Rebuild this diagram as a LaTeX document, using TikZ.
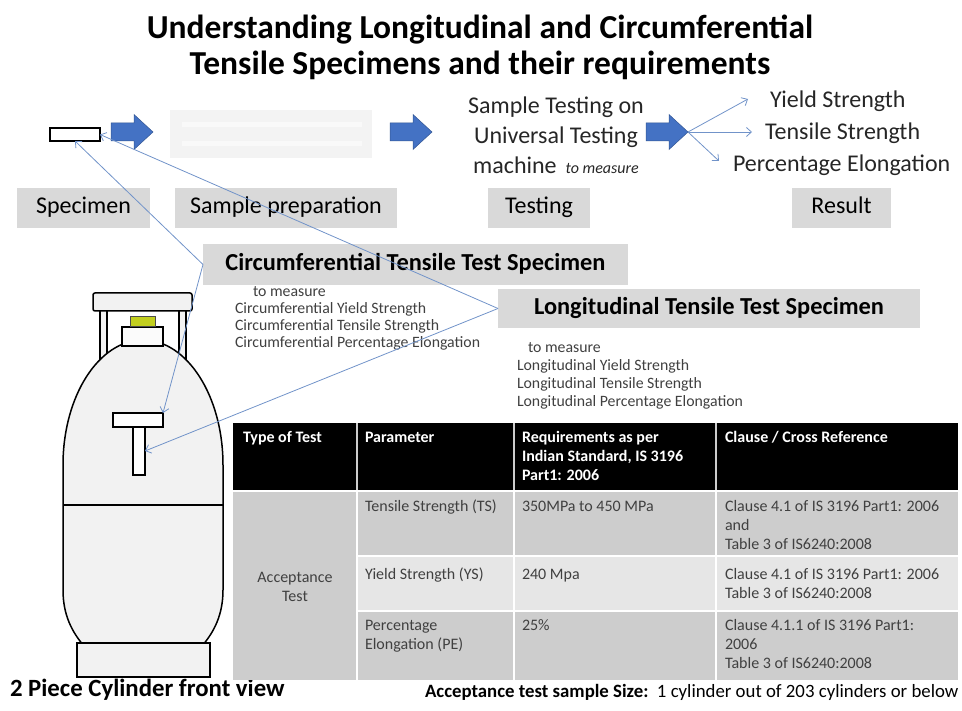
\documentclass[tikz,border=0pt]{standalone}
\usepackage{fontspec}
\setmainfont{Carlito}
\usetikzlibrary{arrows.meta}
\definecolor{arrowblue}{HTML}{4472C4}
\definecolor{linkblue}{HTML}{7193C9}
\definecolor{labelgrey}{HTML}{D9D9D9}
\definecolor{cellgrey}{HTML}{CDCDCD}
\definecolor{celllight}{HTML}{E6E6E6}
\definecolor{celltext}{HTML}{404040}
\definecolor{tankfill}{HTML}{F2F2F2}
\definecolor{valvegreen}{HTML}{C2CF1F}
\definecolor{prepfill}{HTML}{F3F3F3}
\newcommand\fsz[2]{\fontsize{#1}{#2}\selectfont}

\begin{document}
\begin{tikzpicture}[x=1pt,y=-1pt,
  every node/.style={inner sep=0pt, outer sep=0pt},
  stagebox/.style={fill=labelgrey, minimum height=40, text height=17, text depth=5, font=\fsz{24}{29}},
  headbox/.style={fill=labelgrey, text height=17, text depth=5, font=\bfseries\fsz{24.4}{29}},
  bigtext/.style={font=\fsz{24}{30}, text=black!85},
  sublist/.style={anchor=north west, align=left, text=black!75},
  link/.style={draw=linkblue, line width=0.8pt, -{Straight Barb[length=5pt,width=9pt]}},
  tank/.style={draw=black, line width=1.5pt, fill=tankfill},
  part/.style={draw=black, line width=1.5pt, fill=white},
  tcell/.style={anchor=north west, align=left, font=\fsz{16}{19}, text=celltext},
  thead/.style={anchor=north west, align=left, font=\bfseries\fsz{16}{19}, text=white},
  blockarrow/.pic={\filldraw[fill=arrowblue, draw=arrowblue!75!black, line width=0.5pt]
      (-21,-9) -- (2,-9) -- (2,-17.5) -- (21,0) -- (2,17.5) -- (2,9) -- (-21,9) -- cycle;}
]
\useasboundingbox (0,0) rectangle (962,711);

% title
\node[font=\bfseries\fsz{33.5}{36}, align=center] (title) at (480,47)
  {Understanding Longitudinal and Circumferential\\Tensile Specimens and their requirements};

% process row
\node[draw=black, line width=2pt, fill=white, minimum width=50, minimum height=13] (spec) at (75,134.5) {};
\pic at (132,132) {blockarrow};
\node[fill=prepfill, minimum width=202, minimum height=48] (prep) at (271,134) {};
\fill[white!50!prepfill] (182,122) rectangle (362,127);
\fill[white!50!prepfill] (182,141) rectangle (362,146);
\pic at (411,132) {blockarrow};
\node[bigtext, align=center] (testtxt) at (556,135)
  {Sample Testing on\\Universal Testing\\machine {\itshape\fsz{16}{30} to measure}};
\pic at (667,132) {blockarrow};
\coordinate (tip) at (688,132);

\node[bigtext, anchor=west] (ys) at (770,101) {Yield Strength};
\node[bigtext, anchor=west] (ts) at (765,133) {Tensile Strength};
\node[bigtext, anchor=west] (pe) at (733,165) {Percentage Elongation};
\coordinate (ysend) at (748,99);
\coordinate (tsend) at (752,132);
\coordinate (peend) at (719,161);
\draw[link] (tip) -- (ysend);
\draw[link] (tip) -- (tsend);
\draw[link] (tip) -- (peend);

% stage labels
\node[stagebox, minimum width=133] (l1) at (83.5,208) {Specimen};
\node[stagebox, minimum width=222] (l2) at (286,208) {Sample preparation};
\node[stagebox, minimum width=102] (l3) at (539,208) {Testing};
\node[stagebox, minimum width=99] (l4) at (841.5,208) {Result};

% specimen headings
\node[headbox, minimum width=425, minimum height=41] (circ) at (415.5,264.5) {Circumferential Tensile Test Specimen};
\node[headbox, minimum width=422, minimum height=39] (long) at (709,308.5) {Longitudinal Tensile Test Specimen};

\node[sublist, font=\fsz{15.8}{17}] (circlist) at (235,287)
  {\hspace{18pt}to measure\\Circumferential Yield Strength\\Circumferential Tensile Strength\\Circumferential Percentage Elongation};
\node[sublist, font=\fsz{15.8}{18}] (longlist) at (517,343)
  {\hspace{11pt}to measure\\Longitudinal Yield Strength\\Longitudinal Tensile Strength\\Longitudinal Percentage Elongation};

% cylinder
\draw[tank] (100,306) rectangle (107,370);
\draw[tank] (179,306) rectangle (186,370);
\draw[tank] (84,646) .. controls (72,632) and (63,615) .. (63,590) -- (63,465)
  .. controls (63,396) and (99,340) .. (143,340)
  .. controls (187,340) and (223,396) .. (223,465) -- (223,590)
  .. controls (223,615) and (214,632) .. (202,646) -- cycle;
\draw[black, line width=1.5pt] (63,505) -- (223,505);
\draw[tank, rounded corners=2] (93,293) rectangle (192,311);
\draw[draw=black, line width=1.5pt, fill=white!70!tankfill] (122,327) rectangle (163,346);
\draw[draw=black!70, line width=1pt, fill=valvegreen] (130,317) rectangle (155,327);
\draw[tank] (77,643) rectangle (210,677);
\node[part, minimum width=50, minimum height=14] (tbar) at (138,420) {};
\node[part, minimum width=12, minimum height=48, anchor=north] (tstem) at (139,427) {};
\node[font=\bfseries\fsz{24.8}{29}, anchor=west] (cyltitle) at (10,690) {2 Piece Cylinder front view};

% requirement table
\fill[black] (233,423) rectangle (958,490);
\fill[cellgrey] (233,492) rectangle (356,680);
\fill[cellgrey] (358,492) rectangle (513,555);
\fill[cellgrey] (515,492) rectangle (715,555);
\fill[cellgrey] (717,492) rectangle (958,555);
\fill[celllight] (358,557) rectangle (513,610);
\fill[celllight] (515,557) rectangle (715,610);
\fill[celllight] (717,557) rectangle (958,610);
\fill[cellgrey] (358,612) rectangle (513,680);
\fill[cellgrey] (515,612) rectangle (715,680);
\fill[cellgrey] (717,612) rectangle (958,680);
\draw[white!80!black, line width=1.5pt] (357,423) -- (357,490) (514,423) -- (514,490) (716,423) -- (716,490);

\node[thead] (h1) at (243,429) {\strut Type of Test};
\node[thead] (h2) at (365,429) {\strut Parameter};
\node[thead] (h3) at (522,429) {\strut Requirements as per\\Indian Standard, IS 3196\\Part1: 2006};
\node[thead] (h4) at (725,429) {\strut Clause / Cross Reference};

\node[font=\fsz{16}{19}, text=celltext, align=center] (acc) at (295,587) {Acceptance\\Test};
\node[tcell] (p1) at (365,498) {\strut Tensile Strength (TS)};
\node[tcell] (r1) at (522,498) {\strut 350MPa to 450 MPa};
\node[tcell] (c1) at (725,498) {\strut Clause 4.1 of IS 3196 Part1: 2006\\and\\Table 3 of IS6240:2008};
\node[tcell] (p2) at (365,566) {\strut Yield Strength (YS)};
\node[tcell] (r2) at (522,566) {\strut 240 Mpa};
\node[tcell] (c2) at (725,566) {\strut Clause 4.1 of IS 3196 Part1: 2006\\Table 3 of IS6240:2008};
\node[tcell] (p3) at (365,617) {\strut Percentage\\Elongation (PE)};
\node[tcell] (r3) at (522,617) {\strut 25\%};
\node[tcell] (c3) at (725,617) {\strut Clause 4.1.1 of IS 3196 Part1:\\2006\\Table 3 of IS6240:2008};

\node[anchor=west, font=\fsz{18.8}{22}] (sample) at (425,692)
  {\textbf{Acceptance test sample Size:}\ \ 1 cylinder out of 203 cylinders or below};

% specimen location links
\draw[link] (circ.west) -- (spec.south);
\draw[link] (circ.west) -- (tbar.north east);
\draw[link] (long.west) -- (spec.east);
\draw[link] (long.west) -- (tstem.east);
\end{tikzpicture}
\end{document}
